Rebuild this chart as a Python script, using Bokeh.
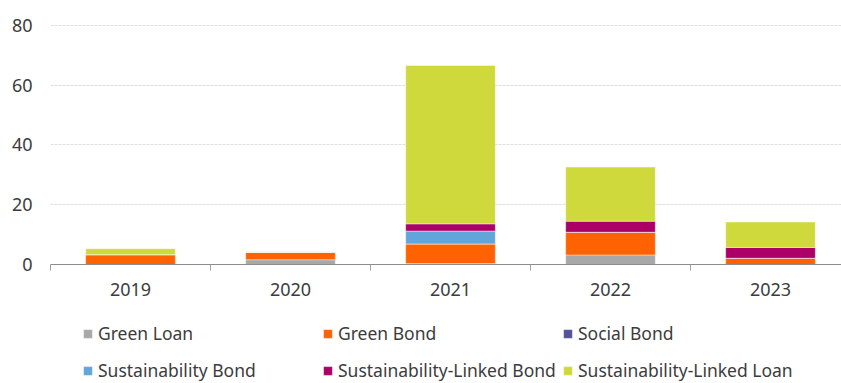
from bokeh.plotting import figure
from bokeh.layouts import column
from bokeh.models import ColumnDataSource, FixedTicker, Range1d, Legend, LegendItem
from bokeh.embed import file_html
from bokeh.resources import INLINE

years = ["2019", "2020", "2021", "2022", "2023"]
green_loan = [0.0, 1.6, 0.3, 3.2, 0.0]
green_bond = [3.3, 2.5, 6.6, 7.6, 2.1]
social_bond = [0.0, 0.0, 0.0, 0.0, 0.0]
sustainability_bond = [0.0, 0.0, 4.3, 0.0, 0.0]
sl_bond = [0.0, 0.0, 2.4, 3.7, 3.6]
sl_loan = [2.0, 0.2, 53.0, 18.1, 8.5]

series = ["Green Loan", "Green Bond", "Social Bond", "Sustainability Bond",
          "Sustainability-Linked Bond", "Sustainability-Linked Loan"]
colors = ["#A8A8A8", "#FF6200", "#525199", "#60A6DA", "#AB0066", "#D0D93C"]
y_ticks = [0, 20, 40, 60, 80]

FONT = "Noto Sans"
TXT = "#3c3c3c"

keys = ["gl", "gb", "sb", "sus", "slb", "sll"]
data = dict(x=[i + 0.5 for i in range(len(years))],
            gl=green_loan, gb=green_bond, sb=social_bond,
            sus=sustainability_bond, slb=sl_bond, sll=sl_loan)
src = ColumnDataSource(data)

p = figure(width=841, height=307, output_backend="svg", toolbar_location=None,
           x_range=Range1d(0, 791 / 160), y_range=Range1d(0, 82),
           min_border_left=50, min_border_right=0, min_border_top=19,
           min_border_bottom=43)

p.vbar_stack(keys, x="x", width=0.56, color=colors, source=src,
             line_color="white", line_width=0.4)

p.outline_line_color = None
p.background_fill_color = None
p.border_fill_color = "white"

# y axis
p.yaxis.ticker = FixedTicker(ticks=y_ticks)
p.yaxis.axis_line_color = None
p.yaxis.major_tick_line_color = None
p.yaxis.minor_tick_line_color = None
p.yaxis.major_tick_out = 0
p.yaxis.major_tick_in = 0
p.yaxis.major_label_standoff = 18
p.yaxis.major_label_text_font = FONT
p.yaxis.major_label_text_font_size = "18px"
p.yaxis.major_label_text_color = TXT

# x axis
p.xaxis.ticker = FixedTicker(ticks=[i + 0.5 for i in range(len(years))],
                             minor_ticks=list(range(len(years) + 1)))
p.xaxis.major_label_overrides = {i + 0.5: y for i, y in enumerate(years)}
p.xaxis.axis_line_color = "#8c8c8c"
p.xaxis.major_tick_line_color = None
p.xaxis.major_tick_out = 0
p.xaxis.major_tick_in = 0
p.xaxis.minor_tick_line_color = "#a0a0a0"
p.xaxis.minor_tick_out = 6
p.xaxis.minor_tick_in = 0
p.xaxis.major_label_standoff = 12
p.xaxis.major_label_text_font = FONT
p.xaxis.major_label_text_font_size = "18px"
p.xaxis.major_label_text_color = TXT

p.xgrid.grid_line_color = None
p.ygrid.ticker = FixedTicker(ticks=y_ticks)
p.ygrid.grid_line_color = "#dedede"
p.ygrid.grid_line_width = 1
p.ygrid.grid_line_dash = "3 1"

# legend panel: a second figure holding only the legend; its stacks lie
# outside its visible x range so only the legend swatches show
lg = figure(width=841, height=76, output_backend="svg", toolbar_location=None,
            x_axis_location=None, y_axis_location=None,
            x_range=Range1d(-20, -19), y_range=Range1d(0, 1),
            min_border_left=0, min_border_right=0, min_border_top=0,
            min_border_bottom=0)
lg.outline_line_color = None
lg.grid.visible = False
lg.background_fill_color = None
lg.border_fill_color = "white"
swatches = lg.vbar_stack(keys, x="x", width=0.56, color=colors, source=src,
                         line_color="white", line_width=0.4)

# legend laid out column by column: two rows, three columns
order = [0, 3, 1, 4, 2, 5]
items = [LegendItem(label=series[i], renderers=[swatches[i]]) for i in order]
legend = Legend(items=items, ncols=3,
                location=(32, -3), padding=0, margin=0,
                spacing=5, glyph_width=11, glyph_height=11,
                label_standoff=5, label_width=219, label_height=32,
                label_text_font=FONT, label_text_font_size="17.5px",
                label_text_color=TXT, border_line_color=None,
                background_fill_alpha=0)
lg.add_layout(legend)

layout = column(p, lg, spacing=0)
open("out.html", "w").write(file_html(layout, INLINE))
